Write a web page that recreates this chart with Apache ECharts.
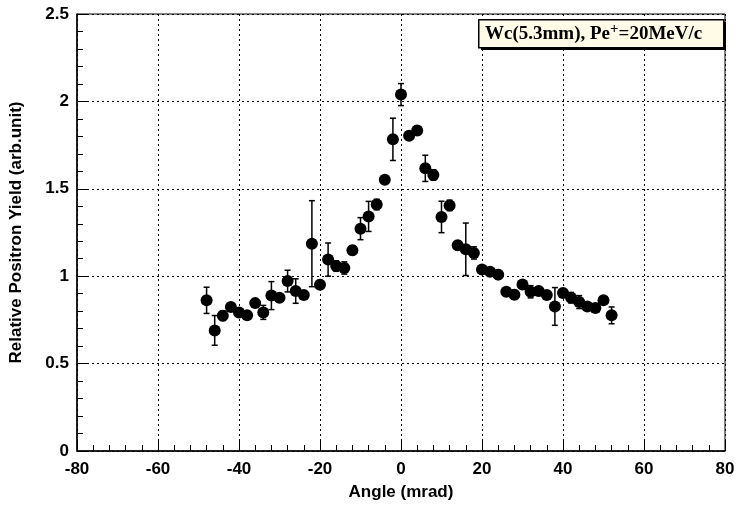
<!DOCTYPE html>
<html>
<head>
<meta charset="utf-8">
<script src="https://cdn.jsdelivr.net/npm/echarts@6/dist/echarts.min.js"></script>
<style>html,body{margin:0;padding:0;background:#fff}#c{width:739px;height:506px}</style>
</head>
<body>
<div id="c"></div>
<script>
var angles = [-48,-46,-44,-42,-40,-38,-36,-34,-32,-30,-28,-26,-24,-22,-20,-18,-16,-14,-12,-10,-8,-6,-4,-2,0,2,4,6,8,10,12,14,16,18,20,22,24,26,28,30,32,34,36,38,40,42,44,46,48,50,52];
var yields = [0.862,0.690,0.774,0.824,0.793,0.776,0.846,0.793,0.889,0.877,0.972,0.915,0.892,1.186,0.951,1.095,1.058,1.047,1.148,1.272,1.342,1.410,1.552,1.783,2.039,1.804,1.833,1.617,1.579,1.339,1.405,1.177,1.154,1.133,1.039,1.026,1.009,0.911,0.894,0.952,0.911,0.915,0.892,0.827,0.904,0.877,0.852,0.827,0.818,0.862,0.776];
var errors = [0.075,0.085,0.027,0.015,0.02,0.02,0.015,0.04,0.08,0.015,0.062,0.07,0.02,0.246,0.025,0.095,0.03,0.035,0.025,0.063,0.086,0.03,0.02,0.121,0.063,0.015,0.025,0.075,0.03,0.09,0.03,0.025,0.15,0.035,0.015,0.015,0.025,0.015,0.025,0.015,0.035,0.025,0.015,0.108,0.015,0.03,0.037,0.02,0.015,0.015,0.048];
var xTicks = [-80,-60,-40,-20,0,20,40,60,80];
var yTicks = [0,0.5,1,1.5,2,2.5];

var pts = angles.map(function(a,i){return [a, yields[i]];});
var errData = angles.map(function(a,i){return [a, yields[i]-errors[i], yields[i]+errors[i]];});

var chart = echarts.init(document.getElementById('c'));
var FONT = 'Liberation Sans';
var lbl = {fontFamily:FONT, fontWeight:'bold', fontSize:17, color:'#000'};
var xMin = xTicks[0], xMax = xTicks[xTicks.length-1];
var yMin = yTicks[0], yMax = yTicks[yTicks.length-1];
function minorAxis(interval, pos){
  return {
    type:'value', min:pos==='bottom'?xMin:yMin, max:pos==='bottom'?xMax:yMax, interval:interval, position:pos,
    axisLine:{show:false, onZero:false}, axisLabel:{show:false}, splitLine:{show:false},
    axisTick:{show:true, inside:true, length:6, lineStyle:{color:'#000', width:1}}
  };
}
chart.setOption({
  animation:false,
  backgroundColor:'#fff',
  grid:{left:77, right:14, top:14, bottom:55, show:true, borderColor:'#000', borderWidth:1, containLabel:false},
  xAxis:[{
    type:'value', min:xMin, max:xMax, interval:20, position:'bottom',
    name:'Angle (mrad)', nameLocation:'middle', nameGap:33,
    nameTextStyle:lbl,
    axisLine:{show:true, onZero:false, lineStyle:{color:'#000', width:1.5}},
    axisTick:{show:true, inside:true, length:12, lineStyle:{color:'#000', width:1}},
    axisLabel:{margin:10, fontFamily:FONT, fontWeight:'bold', fontSize:17, color:'#000'},
    splitLine:{show:true, lineStyle:{color:'#000', type:[2,3], width:1}}
  }, minorAxis(4,'bottom')],
  yAxis:[{
    type:'value', min:yMin, max:yMax, interval:0.5, position:'left',
    name:'Relative Positron Yield (arb.unit)', nameLocation:'middle', nameGap:52,
    nameTextStyle:lbl,
    axisLine:{show:true, onZero:false, lineStyle:{color:'#000', width:1.5}},
    axisTick:{show:true, inside:true, length:12, lineStyle:{color:'#000', width:1}},
    axisLabel:{margin:8, fontFamily:FONT, fontWeight:'bold', fontSize:17, color:'#000'},
    splitLine:{show:true, lineStyle:{color:'#000', type:[2,3], width:1}}
  }, minorAxis(0.1,'left')],
  series:[
    {
      type:'custom',
      data:errData,
      z:2,
      renderItem:function(params, api){
        var x = api.value(0);
        var lo = api.coord([x, api.value(1)]);
        var hi = api.coord([x, api.value(2)]);
        var c = 3;
        var st = {stroke:'#000', lineWidth:1.5};
        return {type:'group', children:[
          {type:'line', shape:{x1:lo[0], y1:lo[1], x2:hi[0], y2:hi[1]}, style:st},
          {type:'line', shape:{x1:lo[0]-c, y1:lo[1], x2:lo[0]+c, y2:lo[1]}, style:st},
          {type:'line', shape:{x1:hi[0]-c, y1:hi[1], x2:hi[0]+c, y2:hi[1]}, style:st}
        ]};
      }
    },
    {
      type:'scatter', data:pts, symbol:'circle', symbolSize:12, z:3,
      itemStyle:{color:'#000', opacity:1}
    }
  ],
  graphic:[
    {type:'rect', left:481, top:22, shape:{width:245, height:28}, style:{fill:'#000'}, z:10},
    {type:'rect', left:478, top:19, shape:{width:245, height:28}, style:{fill:'#fffbe6', stroke:'#000', lineWidth:1.5}, z:11},
    {type:'text', left:485, top:22, z:12, style:{
      text:'{a|Wc(5.3mm), Pe}{s|+}{a|=20MeV/c}',
      rich:{
        a:{fontFamily:'Liberation Serif', fontWeight:'bold', fontSize:19, fill:'#000', verticalAlign:'bottom'},
        s:{fontFamily:'Liberation Serif', fontWeight:'bold', fontSize:15, fill:'#000', padding:[0,0,7,0], verticalAlign:'bottom'}
      }
    }}
  ]
});
</script>
</body>
</html>
